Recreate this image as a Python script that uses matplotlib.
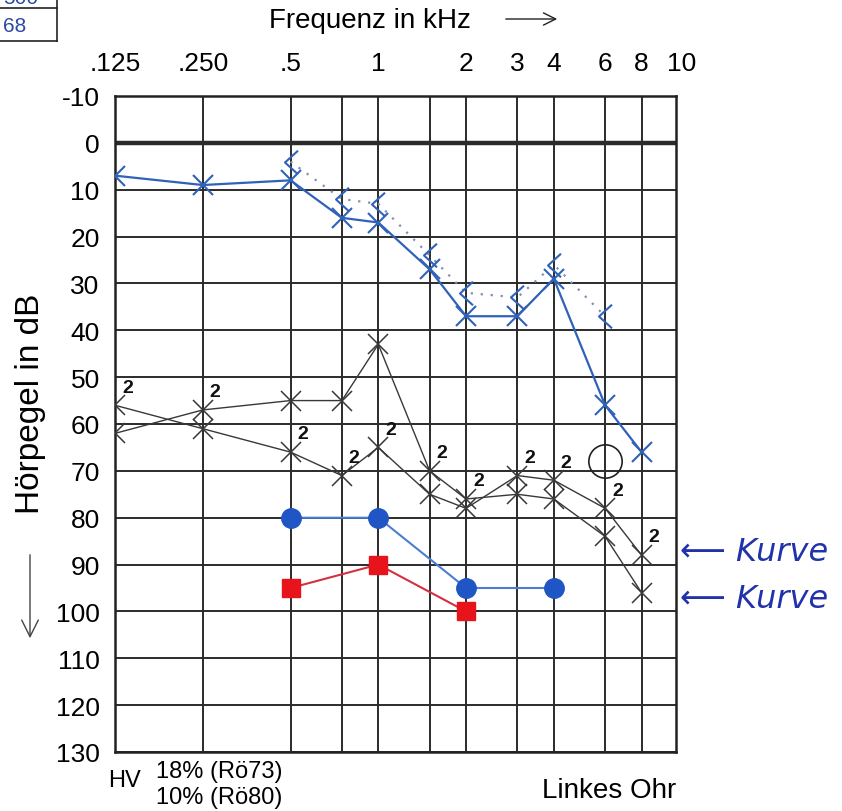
import matplotlib
matplotlib.use("Agg")
import matplotlib.pyplot as plt
from matplotlib.path import Path
from matplotlib.lines import Line2D
from matplotlib.transforms import ScaledTranslation

plt.rcParams['font.family'] = ['Liberation Sans', 'DejaVu Sans']

# frequencies (kHz)
tick_freqs = [0.125, 0.25, 0.5, 1, 2, 3, 4, 6, 8, 10]
tick_labels = [".125", ".250", ".5", "1", "2", "3", "4", "6", "8", "10"]
grid_freqs = [0.125, 0.25, 0.5, 0.75, 1, 1.5, 2, 3, 4, 6, 8]
db_ticks = list(range(-10, 140, 10))

# blue air conduction (X)
air_freqs = [0.125, 0.25, 0.5, 0.75, 1, 1.5, 2, 3, 4, 6, 8]
air_db = [7, 9, 8, 16, 17, 27, 37, 37, 29, 56, 66]

# blue bone conduction (<)
bone_freqs = [0.5, 0.75, 1, 1.5, 2, 3, 4, 6]
bone_db = [4, 12, 13, 24, 32, 33, 26, 37]

# black curves
black1_freqs = [0.125, 0.25, 0.5, 0.75, 1, 1.5, 2, 3, 4, 6, 8]
black1_db = [62, 57, 55, 55, 43, 70, 76, 75, 76, 84, 96]
black2_freqs = [0.125, 0.25, 0.5, 0.75, 1, 1.5, 2, 3, 4, 6, 8]
black2_db = [56, 61, 66, 71, 65, 75, 78, 71, 72, 78, 88]

# points marked with "2"
mark2_freqs = [0.125, 0.25, 0.5, 0.75, 1, 1.5, 2, 3, 4, 6, 8]
mark2_db = [56, 57, 66, 71, 65, 70, 76, 71, 72, 78, 88]

# blue circles / red squares
circ_freqs = [0.5, 1, 2, 4]
circ_db = [80, 80, 95, 95]
sq_freqs = [0.5, 1, 2]
sq_db = [95, 90, 100]

# open circle
open_freq = [6]
open_db = [68]

W, H = 842, 812
fig = plt.figure(figsize=(W / 100, H / 100), dpi=100)
ax = fig.add_axes([115 / W, 1 - 753 / H, (676 - 115) / W, (753 - 97) / H])
ax.set_xscale('log', base=2)
ax.set_xlim(0.125, 10.5)
ax.set_ylim(130, -10)

gc = '#2b2b2b'
for f in grid_freqs:
    ax.axvline(f, color=gc, lw=1.4, zorder=1)
for d in range(-10, 131, 10):
    ax.axhline(d, color=gc, lw=3.2 if d == 0 else 1.4, zorder=1)
for s in ax.spines.values():
    s.set_linewidth(1.8)
    s.set_color('#222222')

ax.xaxis.tick_top()
ax.set_xticks(tick_freqs)
ax.set_xticklabels(tick_labels, fontsize=19)
ax.xaxis.set_minor_locator(matplotlib.ticker.NullLocator())
ax.set_yticks(db_ticks)
ax.set_yticklabels([str(d) for d in db_ticks], fontsize=19)
ax.tick_params(axis='both', length=0)
ax.tick_params(axis='x', pad=15)
ax.tick_params(axis='y', pad=11)
lab10 = ax.get_xticklabels()[-1]
lab10.set_transform(lab10.get_transform() + ScaledTranslation(0.12, 0, fig.dpi_scale_trans))

blue = '#2f62b8'
# bone conduction dotted line + chevrons
ax.plot(bone_freqs, bone_db, color='#8090b0', lw=1.6, ls=(0, (1, 3.5)), zorder=3)
chev = Path([(0.55, 1), (-0.55, 0), (0.55, -1)], [Path.MOVETO, Path.LINETO, Path.LINETO])
ax.plot(bone_freqs, bone_db, ls='none', marker=chev, ms=17, mew=1.5,
        mfc='none', mec=blue, zorder=4)

ax.plot(air_freqs, air_db, color=blue, lw=1.6, marker='x', ms=14, mew=1.5, zorder=4)

bk = '#383838'
ax.plot(black1_freqs, black1_db, color=bk, lw=1.0, marker='x', ms=14, mew=1.1, zorder=3)
ax.plot(black2_freqs, black2_db, color=bk, lw=1.0, marker='x', ms=14, mew=1.1, zorder=3)
for f, d in zip(mark2_freqs, mark2_db):
    ax.annotate('2', (f, d), xytext=(5, 7), textcoords='offset points',
                fontsize=14, fontweight='bold', color='#111111', ha='left', va='bottom')

ax.plot(circ_freqs, circ_db, color='#4a7fd0', lw=1.5, marker='o', ms=14,
        mfc='#1f55c4', mec='#1f55c4', zorder=5)
ax.plot(sq_freqs, sq_db, color='#d43040', lw=1.5, marker='s', ms=12.5,
        mfc='#e8141c', mec='#e8141c', zorder=5)
ax.plot(open_freq, open_db, ls='none', marker='o', ms=24, mfc='none', mec='#222222', mew=1.2, zorder=4)

# header
fig.text(370 / W, 1 - 21 / H, 'Frequenz in kHz', fontsize=20, ha='center', va='center')
ax.annotate('', xy=(560 / W, 1 - 20 / H), xytext=(503 / W, 1 - 20 / H),
            xycoords='figure fraction', textcoords='figure fraction',
            arrowprops=dict(arrowstyle='->', lw=1.0, color='#222222', mutation_scale=22))

# y label and arrow
fig.text(31 / W, 1 - 404 / H, 'Hörpegel in dB', fontsize=24, rotation=90, ha='center', va='center')
ax.annotate('', xy=(30 / W, 1 - 642 / H), xytext=(30 / W, 1 - 553 / H),
            xycoords='figure fraction', textcoords='figure fraction',
            arrowprops=dict(arrowstyle='->', lw=1.0, color='#444444', mutation_scale=30))

# bottom texts
fig.text(108 / W, 1 - 781 / H, 'HV', fontsize=17, ha='left', va='center')
fig.text(156 / W, 1 - 772 / H, '18% (Rö73)', fontsize=17, ha='left', va='center')
fig.text(156 / W, 1 - 798 / H, '10% (Rö80)', fontsize=17, ha='left', va='center')
fig.text(676 / W, 1 - 791 / H, 'Linkes Ohr', fontsize=20, ha='right', va='center')

# top-left box
for (x0, y0, x1, y1) in [(57, 0, 57, 42), (0, 9, 57, 9), (0, 42, 57, 42)]:
    fig.add_artist(Line2D([x0 / W, x1 / W], [1 - y0 / H, 1 - y1 / H],
                          transform=fig.transFigure, color='#222222', lw=1.2))
fig.text(3 / W, 1 - 26 / H, '68', fontsize=15, color='#2a4aa0', ha='left', va='center')
fig.text(3 / W, 1 + 2 / H, '500', fontsize=15, color='#2a4aa0', ha='left', va='center')

# handwritten notes
fig.text(680 / W, 1 - 553 / H, '⟵ Kurve', fontsize=23, color='#2233aa',
         style='italic', ha='left', va='center', family=['DejaVu Sans'])
fig.text(680 / W, 1 - 600 / H, '⟵ Kurve', fontsize=23, color='#2233aa',
         style='italic', ha='left', va='center', family=['DejaVu Sans'])

fig.savefig('out.png', dpi=100)
